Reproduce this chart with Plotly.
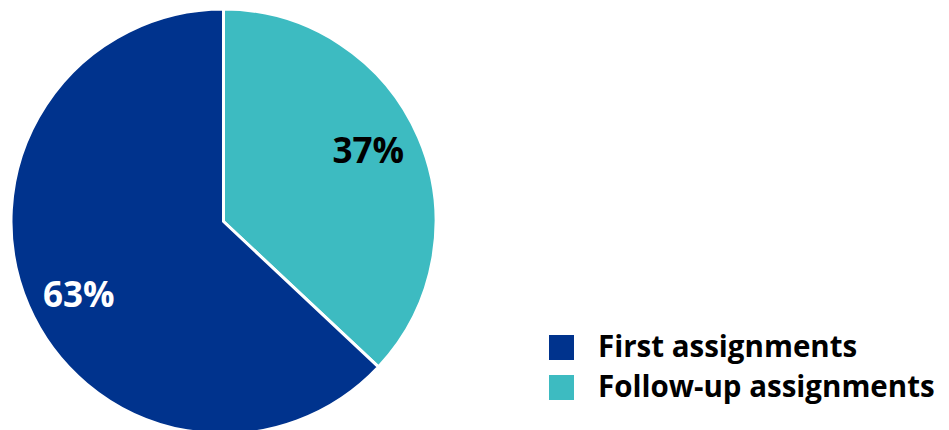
import plotly.graph_objects as go

categories = ["First assignments", "Follow-up assignments"]
shares = [63, 37]
colors = ["#00338D", "#3DBBC1"]
label_colors = ["#FFFFFF", "#000000"]

# page has an 8px body margin; work in figure pixel coordinates
W, H = 941, 430
FONT = "Open Sans"

cx, cy, r = 215.5, 213.5, 212.5
dom_x = [(cx - r) / W, (cx + r) / W]
dom_y = [1 - (cy + r) / H, 1 - (cy - r) / H]

# slices run clockwise from 12 o'clock starting with the follow-up share
pie_labels = categories[::-1]
pie_values = shares[::-1]
pie_colors = colors[::-1]
pie_text_colors = label_colors[::-1]

fig = go.Figure()
fig.add_trace(go.Pie(
    labels=pie_labels,
    values=pie_values,
    sort=False,
    direction="clockwise",
    rotation=0,
    marker=dict(colors=pie_colors, line=dict(color="#FFFFFF", width=3)),
    textinfo="none",
    domain=dict(x=dom_x, y=dom_y),
    showlegend=False,
    hoverinfo="label+percent",
))
# transparent ring carrying the percentage labels (placed mid-ring)
fig.add_trace(go.Pie(
    labels=pie_labels,
    values=pie_values,
    sort=False,
    direction="clockwise",
    rotation=-3,
    hole=0.52,
    marker=dict(colors=["rgba(0,0,0,0)"] * len(pie_values), line=dict(width=0)),
    texttemplate="%{percent:.0%}",
    textposition="inside",
    insidetextorientation="horizontal",
    insidetextfont=dict(family=FONT, size=35, color=pie_text_colors, weight="bold"),
    domain=dict(x=dom_x, y=dom_y),
    showlegend=False,
    hoverinfo="skip",
))

# legend drawn as squares + labels (larger than Plotly's fixed 12px swatches)
sq_x0, sq_x1 = 541, 566
rows_y = [327, 367]
sq_h = 25
shapes, annotations = [], []
for cat, col, y0 in zip(categories, colors, rows_y):
    shapes.append(dict(type="rect", xref="paper", yref="paper",
                       x0=sq_x0 / W, x1=sq_x1 / W,
                       y0=1 - (y0 + sq_h) / H, y1=1 - y0 / H,
                       fillcolor=col, line=dict(width=0)))
    annotations.append(dict(xref="paper", yref="paper", x=588 / W,
                            y=1 - (y0 + sq_h / 2 - 2) / H,
                            xanchor="left", yanchor="middle", showarrow=False,
                            text=cat,
                            font=dict(family=FONT, size=29.5, color="#000000", weight="bold")))

fig.update_layout(
    width=W, height=H,
    margin=dict(l=0, r=0, t=0, b=0),
    paper_bgcolor="#FFFFFF",
    plot_bgcolor="#FFFFFF",
    shapes=shapes,
    annotations=annotations,
)

fig.write_html("out.html")
